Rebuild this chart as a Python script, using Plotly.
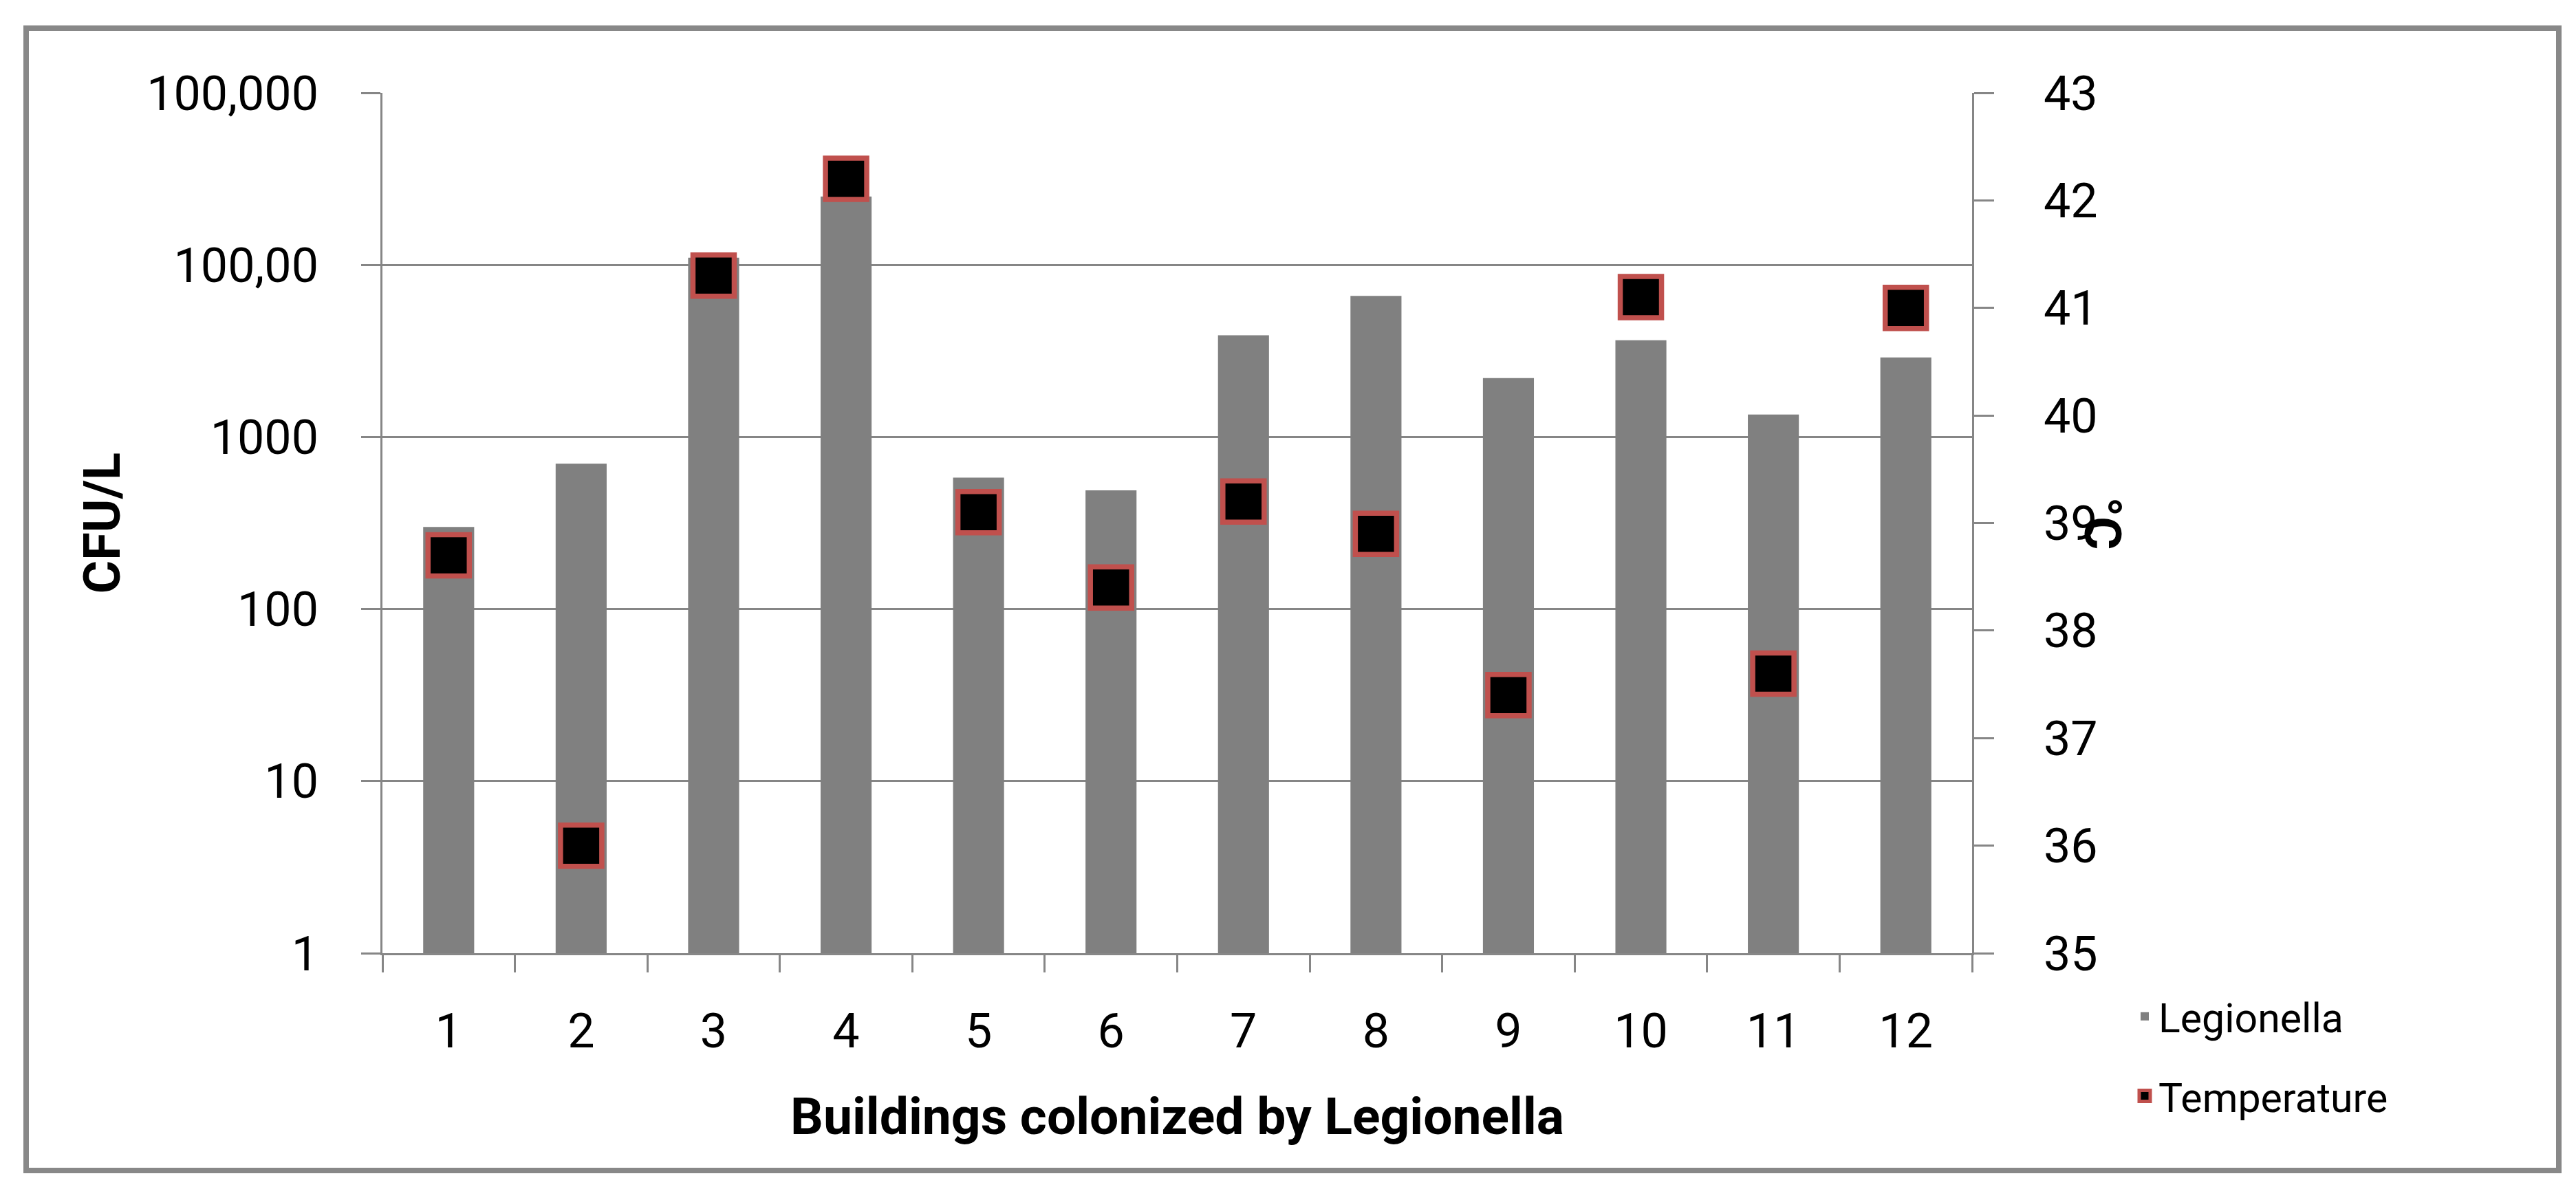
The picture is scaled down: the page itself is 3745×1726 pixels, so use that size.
import plotly.graph_objects as go

# ---- data ----
buildings = [str(i) for i in range(1, 13)]
legionella_cfu = [300, 700, 11000, 25000, 580, 490, 3900, 6600, 2200, 3650, 1350, 2900]
temperature_c = [38.7, 36.0, 41.3, 42.2, 39.1, 38.4, 39.2, 38.9, 37.4, 41.1, 37.6, 41.0]

cfu_tickvals = [1, 10, 100, 1000, 10000, 100000]
cfu_ticktext = ["1", "10", "100", "1000", "100,00", "100,000"]
temp_tickvals = [35, 36, 37, 38, 39, 40, 41, 42, 43]

GRID = "#868686"
BAR = "#808080"
RED = "#C0504D"
FONT = "Roboto"

W, H = 3745, 1726
L, R, T, B = 548, 886, 127, 348

fig = go.Figure()
fig.add_trace(go.Bar(
    x=buildings, y=legionella_cfu, name="Legionella",
    marker=dict(color=BAR, line=dict(width=0)),
    legendgroup="g1",
))
fig.add_trace(go.Scatter(
    x=buildings, y=temperature_c, name="Temperature", yaxis="y2",
    mode="markers",
    marker=dict(symbol="square", size=60, color="black",
                line=dict(color=RED, width=7.5)),
    legendgroup="g2",
))

pw = W - L - R
ph = H - T - B


def px_x(x):
    return (x - L) / pw


def px_y(y):
    return (H - B - y) / ph


fig.update_layout(
    width=W, height=H, autosize=False,
    margin=dict(l=L, r=R, t=T, b=B, pad=0),
    paper_bgcolor="white", plot_bgcolor="white",
    font=dict(family=FONT, color="black", size=60),
    bargap=0.615,
    showlegend=True,
    legend=dict(
        x=px_x(3090), y=px_y(1425), xanchor="left", yanchor="top",
        font=dict(family=FONT, size=59, color="black"),
        traceorder="grouped", tracegroupgap=36,
        bgcolor="rgba(0,0,0,0)",
    ),
    xaxis=dict(
        type="category", range=[-0.5, 11.5], autorange=False,
        tickson="boundaries", ticks="outside", ticklen=25, tickwidth=3,
        tickcolor=GRID,
        showline=True, linecolor=GRID, linewidth=3,
        showgrid=False, zeroline=False,
        tickfont=dict(family=FONT, size=70, color="black"),
        ticklabelstandoff=50,
        title=dict(text="Buildings colonized by Legionella",
                   font=dict(family=FONT, size=75, color="black", weight=700),
                   standoff=58),
    ),
    yaxis=dict(
        type="log", range=[0, 5],
        tickvals=cfu_tickvals, ticktext=cfu_ticktext,
        ticks="outside", ticklen=28, tickwidth=3, tickcolor=GRID,
        showline=True, linecolor=GRID, linewidth=3,
        showgrid=True, gridcolor=GRID, gridwidth=3,
        zeroline=False,
        tickfont=dict(family=FONT, size=70, color="black"),
        ticklabelstandoff=48,
        title=dict(text="CFU/L",
                   font=dict(family=FONT, size=74, color="black", weight=700),
                   standoff=15),
    ),
    yaxis2=dict(
        overlaying="y", side="right",
        range=[35, 43], tickvals=temp_tickvals,
        ticks="outside", ticklen=29, tickwidth=3, tickcolor=GRID,
        showline=True, linecolor=GRID, linewidth=3,
        showgrid=False, zeroline=False,
        tickfont=dict(family=FONT, size=70, color="black"),
        ticklabelstandoff=58,
    ),
    annotations=[dict(
        text="°C", xref="paper", yref="paper",
        x=px_x(3048), y=0.5, xanchor="center", yanchor="middle",
        textangle=90, showarrow=False,
        font=dict(family=FONT, size=74, color="black", weight=700),
    )],
    shapes=[dict(
        type="rect", xref="paper", yref="paper",
        x0=px_x(30), x1=px_x(3712), y0=px_y(1694), y1=px_y(33),
        line=dict(color="#888888", width=8), fillcolor="rgba(0,0,0,0)",
        layer="below",
    )],
)

fig.write_html("out.html")
